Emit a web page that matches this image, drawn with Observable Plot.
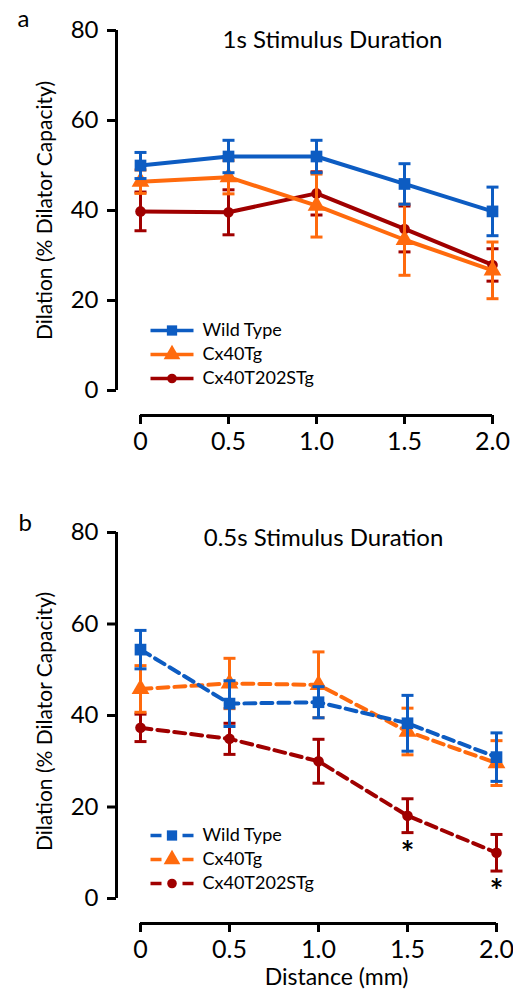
<!DOCTYPE html>
<html>
<head>
<meta charset="utf-8">
<script src="https://cdn.jsdelivr.net/npm/d3@7"></script>
<script src="https://cdn.jsdelivr.net/npm/@observablehq/plot@0.6"></script>
<style>
  html, body { margin: 0; padding: 0; background: white; }
  #root { position: relative; width: 513px; height: 990px; font-family: Lato, sans-serif; }
  .legend { position: absolute; }
  svg { display: block; }
</style>
</head>
<body>
<div id="root"></div>
<script>
// ---------- data ----------
const distances = [0, 0.5, 1.0, 1.5, 2.0];
const distanceTicks = [0, 0.5, 1.0, 1.5, 2.0];
const distanceTickLabels = ["0", "0.5", "1.0", "1.5", "2.0"];
const dilationTicks = [0, 20, 40, 60, 80];
const seriesNames = ["Wild Type", "Cx40Tg", "Cx40T202STg"];
const seriesColors = ["#0d5cc2", "#ff6a0d", "#a00000"];
const seriesSymbols = ["square", "triangle", "circle"];

// Panel a: 1 s stimulus
const a_wt      = [50.0, 52.0, 52.0, 45.9, 39.8];
const a_wtErr   = [2.9, 3.6, 3.6, 4.5, 5.4];
const a_tg      = [46.4, 47.4, 41.1, 33.5, 26.7];
const a_tgErr   = [2.6, 3.7, 7.0, 7.9, 6.3];
const a_ts      = [39.8, 39.6, 43.8, 35.9, 27.9];
const a_tsErr   = [4.3, 5.0, 4.8, 5.1, 3.6];

// Panel b: 0.5 s stimulus
const b_wt      = [54.4, 42.6, 42.9, 38.3, 30.9];
const b_wtErr   = [4.2, 5.0, 3.4, 6.1, 5.3];
const b_tg      = [45.8, 47.0, 46.7, 36.5, 29.6];
const b_tgErr   = [5.1, 5.5, 7.2, 5.1, 4.9];
const b_ts      = [37.3, 34.9, 30.0, 18.1, 10.0];
const b_tsErr   = [3.0, 3.4, 4.8, 3.7, 4.0];
const b_tsSig   = ["", "", "", "*", "*"];

const yLabel = "Dilation (% Dilator Capacity)";
const xLabel = "Distance (mm)";

// ---------- helpers ----------
const capSymbol = { draw(ctx) { ctx.moveTo(-6, 0); ctx.lineTo(6, 0); } };
const legendLine = { draw(ctx) { ctx.moveTo(-21.5, 0); ctx.lineTo(21.5, 0); } };

const colorScale = { domain: seriesNames, range: seriesColors };
const symbolScale = { domain: seriesNames, range: seriesSymbols };
const symbolR = { "Wild Type": 6.6, "Cx40Tg": 6.6, "Cx40T202STg": 5.3 };
const legendR = { "Wild Type": 5.8, "Cx40Tg": 6.2, "Cx40T202STg": 4.8 };
const drawOrder = ["Cx40T202STg", "Cx40Tg", "Wild Type"];

function makeRows(means, errs, sigs) {
  return seriesNames.flatMap((s, i) => distances.map((d, j) => ({
    series: s, x: d, y: means[i][j], e: errs[i][j], sig: sigs && sigs[i] ? sigs[i][j] : ""
  })));
}

function panel(opts) {
  const rows = makeRows(opts.means, opts.errs, opts.sigs);
  const marks = [];
  // axes
  marks.push(Plot.ruleX([0], { y1: 0, y2: 80, dx: -24, strokeWidth: 3, stroke: "black" }));
  marks.push(Plot.axisY({ ticks: dilationTicks, dx: -24, tickSize: 9, tickPadding: 9, strokeWidth: 3, fontSize: 24, label: null }));
  marks.push(Plot.ruleY([0], { x1: 0, x2: 2, dy: 25, strokeWidth: 3, stroke: "black" }));
  marks.push(Plot.axisX({ ticks: distanceTicks, tickFormat: d => distanceTickLabels[distanceTicks.indexOf(d)], dy: 25, tickSize: 9, tickPadding: 8, strokeWidth: 3, fontSize: 25, label: null }));
  // labels
  marks.push(Plot.text([yLabel], { frameAnchor: "left", textAnchor: "middle", rotate: -90, dx: -95, dy: opts.yLabelDy, fontSize: 21, text: d => d }));
  marks.push(Plot.text([opts.title], { frameAnchor: "top", textAnchor: "middle", dx: opts.titleDx, dy: opts.titleDy, fontSize: 24, lineAnchor: "middle", text: d => d }));
  marks.push(Plot.text([opts.letter], { frameAnchor: "top-left", textAnchor: "start", dx: opts.letterDx, dy: opts.letterDy, fontSize: 24, lineAnchor: "middle", text: d => d }));
  if (opts.showXLabel) {
    marks.push(Plot.text([xLabel], { frameAnchor: "bottom", textAnchor: "middle", dx: 18, dy: 79, fontSize: 23, lineAnchor: "middle", text: d => d }));
  }
  // series
  for (const s of drawOrder) {
    const data = rows.filter(r => r.series === s);
    marks.push(Plot.line(data, { x: "x", y: "y", stroke: "series", strokeWidth: 4, strokeDasharray: opts.dash }));
    marks.push(Plot.ruleX(data, { x: "x", y1: d => d.y - d.e, y2: d => d.y + d.e, stroke: "series", strokeWidth: 3 }));
    marks.push(Plot.dot(data, { x: "x", y: d => d.y + d.e, symbol: capSymbol, stroke: "series", strokeWidth: 3 }));
    marks.push(Plot.dot(data, { x: "x", y: d => d.y - d.e, symbol: capSymbol, stroke: "series", strokeWidth: 3 }));
    marks.push(Plot.dot(data, { x: "x", y: "y", symbol: "series", fill: "series", stroke: "none", r: symbolR[s] }));
    marks.push(Plot.text(data.filter(d => d.sig), { x: "x", y: d => d.y - d.e, text: "sig", dy: 22, fontSize: 32, fontWeight: "bold", lineAnchor: "middle", fill: "black" }));
  }
  return Plot.plot({
    width: 513,
    height: 495,
    marginTop: opts.marginTop,
    marginBottom: opts.marginBottom,
    marginLeft: 140,
    marginRight: opts.marginRight,
    style: { fontFamily: "Lato, sans-serif", background: "white", color: "black", overflow: "visible" },
    x: { domain: [0, 2], axis: null },
    y: { domain: [0, 80], axis: null },
    color: colorScale,
    symbol: symbolScale,
    marks
  });
}

function legend(dash, top) {
  const marks = [];
  for (const s of seriesNames) {
    marks.push(Plot.dot([s], { x: 0, y: d => d, dx: 21.5, symbol: legendLine, stroke: d => d, strokeWidth: 3.5, strokeDasharray: dash }));
    marks.push(Plot.dot([s], { x: 0, y: d => d, dx: 21.5, symbol: d => d, fill: d => d, stroke: "none", r: legendR[s] }));
  }
  marks.push(Plot.text(seriesNames, { x: 0, y: d => d, dx: 52, text: d => d, textAnchor: "start", fontSize: 18, fill: "black" }));
  const el = Plot.plot({
    width: 210, height: 72, marginTop: 12, marginBottom: 12, marginLeft: 0, marginRight: 0,
    style: { fontFamily: "Lato, sans-serif", background: "transparent", color: "black", overflow: "visible" },
    x: { domain: [0, 1], axis: null },
    y: { type: "point", domain: seriesNames, padding: 0, axis: null },
    color: colorScale,
    symbol: symbolScale,
    marks
  });
  const div = document.createElement("div");
  div.className = "legend";
  div.style.left = "150px";
  div.style.top = top + "px";
  div.appendChild(el);
  return div;
}

const root = document.getElementById("root");
root.appendChild(panel({
  title: "1s Stimulus Duration", letter: "a",
  means: [a_wt, a_tg, a_ts], errs: [a_wtErr, a_tgErr, a_tsErr],
  dash: null, marginTop: 30, marginBottom: 105, marginRight: 21,
  titleDx: 16, titleDy: 10, letterDx: -123, letterDy: -11, yLabelDy: 0, showXLabel: false
}));
root.appendChild(panel({
  title: "0.5s Stimulus Duration", letter: "b",
  means: [b_wt, b_tg, b_ts], errs: [b_wtErr, b_tgErr, b_tsErr], sigs: [null, null, b_tsSig],
  dash: "11,6", marginTop: 37, marginBottom: 92, marginRight: 17,
  titleDx: 5, titleDy: 6, letterDx: -122, letterDy: -9, yLabelDy: 6, showXLabel: true
}));
root.appendChild(legend(null, 318));
root.appendChild(legend("11,21,11", 823));
</script>
</body>
</html>
